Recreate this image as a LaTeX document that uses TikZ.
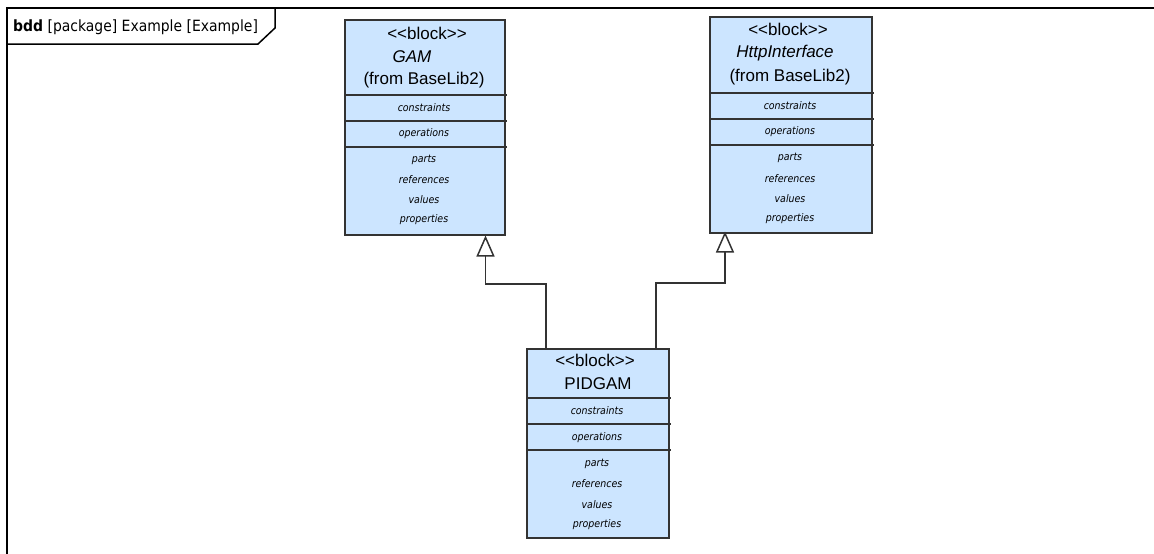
\documentclass[tikz,border=0pt]{standalone}
\usepackage{fontspec}
\setmainfont{Liberation Sans}
\newfontfamily\tahoma{DejaVu Sans Condensed}
\usetikzlibrary{arrows.meta,calc}
\definecolor{blockfill}{RGB}{204,229,255}
\definecolor{edge}{RGB}{51,51,51}
\newcommand{\stereo}{<{}<block>{}>}
\tikzset{
  blockbox/.style={draw=edge, line width=1.5pt, fill=blockfill, anchor=north west, inner sep=0pt},
  divider/.style={draw=edge, line width=1.2pt},
  title/.style={inner sep=0pt, font=\fontsize{17}{17}\selectfont},
  ititle/.style={title, font=\fontsize{17}{17}\selectfont\itshape},
  comp/.style={inner sep=0pt, font=\tahoma\fontsize{10.5}{10.5}\selectfont\itshape},
  gen/.style={draw=edge, line width=1.5pt, -{Triangle[open, length=21pt, width=18pt, fill=white]}},
  frameline/.style={draw=black, line width=1.5pt}
}
\begin{document}
\begin{tikzpicture}[x=1pt,y=-1pt]
\useasboundingbox[fill=white] (0,0) rectangle (1154,554);
% frame
\draw[frameline] (7,554) -- (7,8) -- (1154,8);
\draw[frameline] (7,44) -- (258,44) -- (275,28) -- (275,8);
\node[anchor=west, inner sep=0pt, font=\tahoma\fontsize{15.5}{15.5}\selectfont] (hdr) at (13,27) {\textbf{bdd}\ [package] Example [Example]};

% GAM block
\node[blockbox, minimum width=160pt, minimum height=215pt] (gam) at (344,19) {};
\draw[divider] (344,95) -- (507,95);
\draw[divider] (344,121) -- (507,121);
\draw[divider] (344,147) -- (507,147);
\node[title] (gams) at (427,33) {\stereo};
\node[ititle] (gamn) at (412,57) {GAM};
\node[title] (gamf) at (424,80) {(from BaseLib2)};
\node[comp] (gamc) at (424,108) {constraints};
\node[comp] (gamo) at (424,134) {operations};
\node[comp] (gamp) at (424,160) {parts};
\node[comp] (gamr) at (424,180) {references};
\node[comp] (gamv) at (424,200) {values};
\node[comp] (gampr) at (424,220) {properties};

% HttpInterface block
\node[blockbox, minimum width=162pt, minimum height=216pt] (http) at (709,16) {};
\draw[divider] (709,93) -- (874,93);
\draw[divider] (709,119) -- (874,119);
\draw[divider] (709,145) -- (874,145);
\node[title] (https) at (788,29) {\stereo};
\node[ititle] (httpn) at (785,53) {HttpInterface};
\node[title] (httpf) at (790,77) {(from BaseLib2)};
\node[comp] (httpc) at (790,106) {constraints};
\node[comp] (httpo) at (790,132) {operations};
\node[comp] (httpp) at (790,158) {parts};
\node[comp] (httpr) at (790,179) {references};
\node[comp] (httpv) at (790,199) {values};
\node[comp] (httppr) at (790,219) {properties};

% PIDGAM block
\node[blockbox, minimum width=142pt, minimum height=189pt] (pid) at (526,348) {};
\draw[divider] (526,398) -- (671,398);
\draw[divider] (526,424) -- (671,424);
\draw[divider] (526,450) -- (671,450);
\node[title] (pids) at (595,360) {\stereo};
\node[title] (pidn) at (598,384) {PIDGAM};
\node[comp] (pidc) at (597,411) {constraints};
\node[comp] (pido) at (597,438) {operations};
\node[comp] (pidp) at (597,464) {parts};
\node[comp] (pidr) at (597,484) {references};
\node[comp] (pidv) at (597,505) {values};
\node[comp] (pidpr) at (597,525) {properties};

% generalizations
\draw[gen] ([xshift=20pt]pid.north west) -- ++(0,-64) -| ([xshift=-20pt]gam.south east);
\draw[gen] ([xshift=-13.5pt]pid.north east) -- ++(0,-65) -| ([xshift=16pt,yshift=2pt]http.south west);
\end{tikzpicture}
\end{document}
